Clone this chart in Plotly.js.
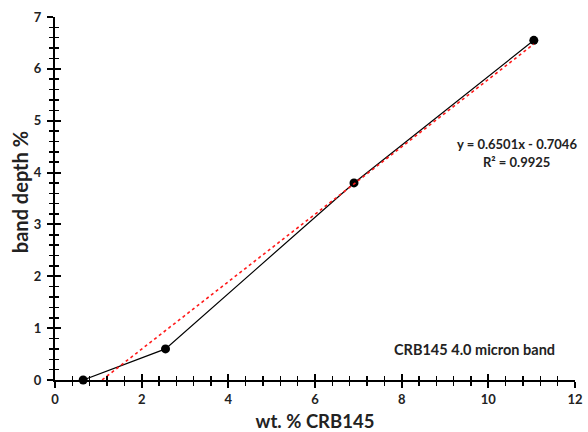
<!DOCTYPE html>
<html>
<head>
<meta charset="utf-8">
<script src="https://cdn.plot.ly/plotly-3.0.1.min.js"></script>
<style>html,body{margin:0;padding:0;background:#fff;}#chart{width:588px;height:432px;}</style>
</head>
<body>
<div id="chart"></div>
<script>
// Data
var wtPercent = [0.65, 2.55, 6.9, 11.05];
var bandDepth = [0.0, 0.6, 3.8, 6.55];
var trendSlope = 0.6501;
var trendIntercept = -0.7046;
var rSquared = 0.9925;
var xTickVals = [0, 2, 4, 6, 8, 10, 12];
var yTickVals = [0, 1, 2, 3, 4, 5, 6, 7];

var trendX = [Math.min.apply(null, wtPercent), Math.max.apply(null, wtPercent)];
var trendY = trendX.map(function (x) { return trendSlope * x + trendIntercept; });

var FONT = 'Lato, "Open Sans", sans-serif';

var traces = [
  {
    x: wtPercent, y: bandDepth, type: 'scatter', mode: 'lines+markers',
    line: {color: '#000', width: 1.2},
    marker: {color: '#000', size: 9},
    cliponaxis: false, showlegend: false, hoverinfo: 'x+y'
  },
  {
    x: trendX, y: trendY, type: 'scatter', mode: 'lines',
    line: {color: '#ff1a1a', width: 1.6, dash: 'dot'},
    showlegend: false, hoverinfo: 'skip'
  },
  {
    x: [0], y: [0], xaxis: 'x2', yaxis: 'y2', type: 'scatter', mode: 'markers',
    marker: {opacity: 0}, showlegend: false, hoverinfo: 'skip'
  }
];

var axisCommon = {
  showgrid: false, zeroline: false, showline: true,
  linecolor: '#000', linewidth: 2, tickcolor: '#000', tickwidth: 2
};

var layout = {
  width: 588, height: 432,
  margin: {l: 55, r: 13, t: 17, b: 52},
  paper_bgcolor: '#fff', plot_bgcolor: '#fff',
  font: {family: FONT, color: '#222'},
  xaxis: Object.assign({}, axisCommon, {
    range: [0, 12], tickvals: xTickVals, ticks: 'outside', ticklen: 6,
    tickfont: {size: 13, family: FONT, color: '#222', weight: 'bold'},
    minor: {dtick: 0.4, ticks: 'outside', ticklen: 4, tickcolor: '#000', tickwidth: 1.5, showgrid: false},
    title: {text: '<b>wt. % CRB145</b>', font: {size: 18.5, family: FONT, color: '#222'}, standoff: 10}
  }),
  yaxis: Object.assign({}, axisCommon, {
    range: [0, 7], tickvals: yTickVals, ticks: 'outside', ticklen: 6, ticklabelstandoff: 3,
    tickfont: {size: 13, family: FONT, color: '#222', weight: 'bold'},
    minor: {dtick: 0.2, ticks: 'outside', ticklen: 4, tickcolor: '#000', tickwidth: 1.5, showgrid: false}
  }),
  xaxis2: Object.assign({}, axisCommon, {
    overlaying: 'x', anchor: 'y2', range: [0, 12], tickvals: xTickVals,
    ticks: 'inside', ticklen: 6, showticklabels: false,
    minor: {dtick: 0.4, ticks: 'inside', ticklen: 4, tickcolor: '#000', tickwidth: 1.5, showgrid: false}
  }),
  yaxis2: Object.assign({}, axisCommon, {
    overlaying: 'y', anchor: 'x2', range: [0, 7], tickvals: yTickVals,
    ticks: 'inside', ticklen: 6, showticklabels: false,
    minor: {dtick: 0.2, ticks: 'inside', ticklen: 4, tickcolor: '#000', tickwidth: 1.5, showgrid: false}
  }),
  annotations: [
    {
      xref: 'paper', yref: 'paper', x: -0.067, y: 0.518, xanchor: 'center', yanchor: 'middle',
      text: '<b>band depth %</b>', textangle: -90,
      showarrow: false, font: {size: 20, family: FONT, color: '#222'}
    },
    {
      xref: 'paper', yref: 'paper', x: 0.888, y: 0.651, xanchor: 'center', yanchor: 'middle',
      text: '<b>y = ' + trendSlope.toFixed(4) + 'x - ' + Math.abs(trendIntercept).toFixed(4) + '</b>',
      showarrow: false, align: 'center', font: {size: 13, family: FONT, color: '#222'}
    },
    {
      xref: 'paper', yref: 'paper', x: 0.888, y: 0.6, xanchor: 'center', yanchor: 'middle',
      text: '<b>R² = ' + rSquared.toFixed(4) + '</b>',
      showarrow: false, align: 'center', font: {size: 13, family: FONT, color: '#222'}
    },
    {
      xref: 'paper', yref: 'paper', x: 0.806, y: 0.083, xanchor: 'center', yanchor: 'middle',
      text: '<b>CRB145 4.0 micron band</b>',
      showarrow: false, font: {size: 14.5, family: FONT, color: '#222'}
    }
  ]
};

Plotly.newPlot('chart', traces, layout, {displayModeBar: false, staticPlot: true});
</script>
</body>
</html>
